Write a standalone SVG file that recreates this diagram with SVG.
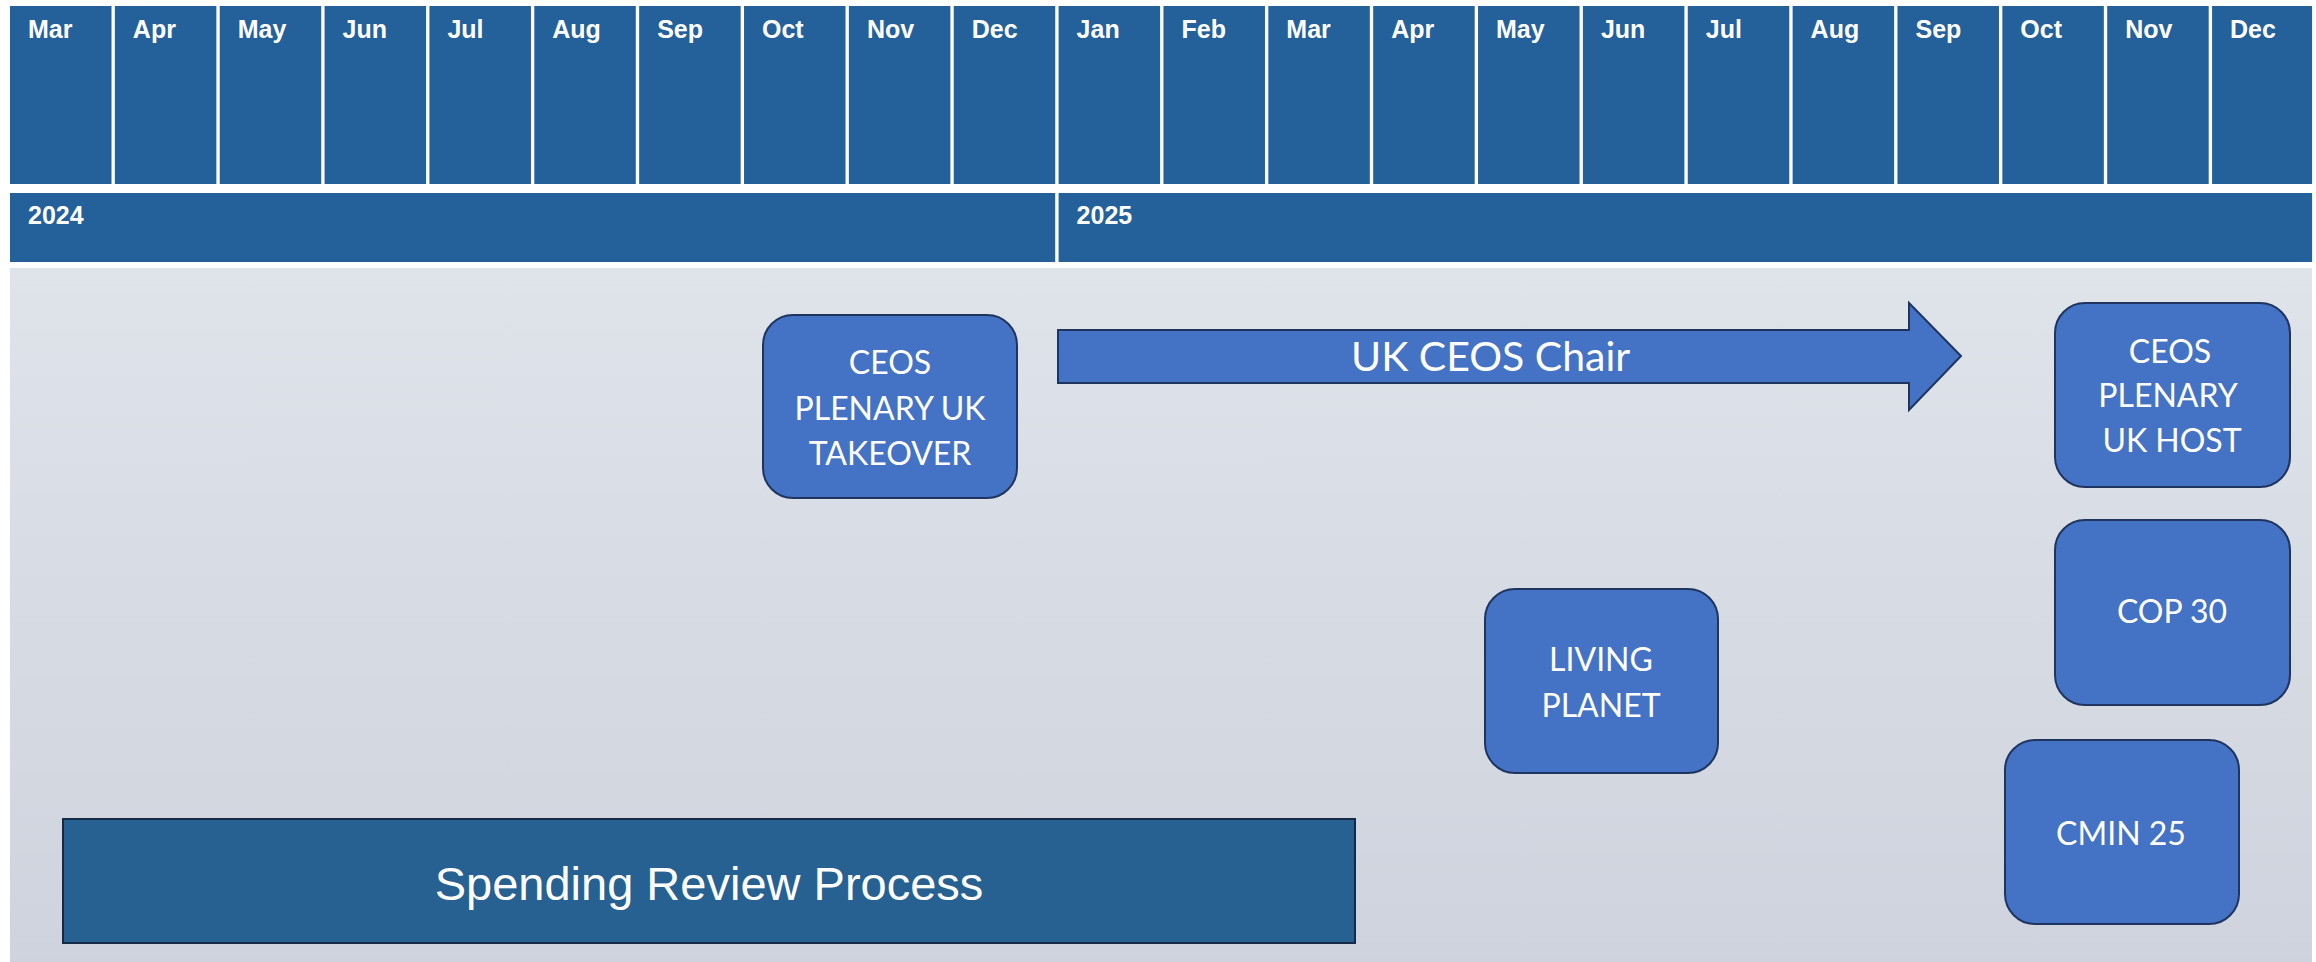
<svg xmlns="http://www.w3.org/2000/svg" width="2316" height="962" viewBox="0 0 2316 962">
<defs>
<linearGradient id="bg" x1="0" y1="0" x2="0" y2="1">
<stop offset="0" stop-color="#dfe3ea"/>
<stop offset="1" stop-color="#ced3dd"/>
</linearGradient>
<style>
.mon{fill:#24609a}
.ml{font-family:"Liberation Sans",Arial,sans-serif;font-weight:bold;font-size:25px;fill:#ffffff}
.node{fill:#4472c4;stroke:#1f3560;stroke-width:2}
.nt{font-family:Lato,"Open Sans",sans-serif;font-size:32px;fill:#ffffff;text-anchor:middle}
</style>
</defs>
<rect x="0" y="0" width="2316" height="962" fill="#ffffff"/>
<rect x="10" y="268" width="2302" height="694" fill="url(#bg)"/>
<g id="months">
<rect class="mon" x="10" y="6" width="101.5" height="178"/>
<rect class="mon" x="114.86" y="6" width="101.5" height="178"/>
<rect class="mon" x="219.72" y="6" width="101.5" height="178"/>
<rect class="mon" x="324.58" y="6" width="101.5" height="178"/>
<rect class="mon" x="429.44" y="6" width="101.5" height="178"/>
<rect class="mon" x="534.3" y="6" width="101.5" height="178"/>
<rect class="mon" x="639.16" y="6" width="101.5" height="178"/>
<rect class="mon" x="744.02" y="6" width="101.5" height="178"/>
<rect class="mon" x="848.88" y="6" width="101.5" height="178"/>
<rect class="mon" x="953.74" y="6" width="101.5" height="178"/>
<rect class="mon" x="1058.6" y="6" width="101.5" height="178"/>
<rect class="mon" x="1163.46" y="6" width="101.5" height="178"/>
<rect class="mon" x="1268.32" y="6" width="101.5" height="178"/>
<rect class="mon" x="1373.18" y="6" width="101.5" height="178"/>
<rect class="mon" x="1478.04" y="6" width="101.5" height="178"/>
<rect class="mon" x="1582.9" y="6" width="101.5" height="178"/>
<rect class="mon" x="1687.76" y="6" width="101.5" height="178"/>
<rect class="mon" x="1792.62" y="6" width="101.5" height="178"/>
<rect class="mon" x="1897.48" y="6" width="101.5" height="178"/>
<rect class="mon" x="2002.34" y="6" width="101.5" height="178"/>
<rect class="mon" x="2107.2" y="6" width="101.5" height="178"/>
<rect class="mon" x="2212.06" y="6" width="100" height="178"/>
<text class="ml" x="28" y="38">Mar</text>
<text class="ml" x="132.86" y="38">Apr</text>
<text class="ml" x="237.72" y="38">May</text>
<text class="ml" x="342.58" y="38">Jun</text>
<text class="ml" x="447.44" y="38">Jul</text>
<text class="ml" x="552.3" y="38">Aug</text>
<text class="ml" x="657.16" y="38">Sep</text>
<text class="ml" x="762.02" y="38">Oct</text>
<text class="ml" x="866.88" y="38">Nov</text>
<text class="ml" x="971.74" y="38">Dec</text>
<text class="ml" x="1076.6" y="38">Jan</text>
<text class="ml" x="1181.46" y="38">Feb</text>
<text class="ml" x="1286.32" y="38">Mar</text>
<text class="ml" x="1391.18" y="38">Apr</text>
<text class="ml" x="1496.04" y="38">May</text>
<text class="ml" x="1600.9" y="38">Jun</text>
<text class="ml" x="1705.76" y="38">Jul</text>
<text class="ml" x="1810.62" y="38">Aug</text>
<text class="ml" x="1915.48" y="38">Sep</text>
<text class="ml" x="2020.34" y="38">Oct</text>
<text class="ml" x="2125.2" y="38">Nov</text>
<text class="ml" x="2230.06" y="38">Dec</text>
</g>
<g id="years">
<rect class="mon" x="10" y="193" width="1045.2" height="69"/>
<rect class="mon" x="1058.6" y="193" width="1253.5" height="69"/>
<text class="ml" x="28" y="224">2024</text>
<text class="ml" x="1076.6" y="224">2025</text>
</g>
<g id="connectors">
<g id="uk-ceos-chair">
<path d="M1058,330 L1909,330 L1909,303 L1961,356 L1909,410 L1909,383 L1058,383 Z" fill="#4472c4" stroke="#1f3560" stroke-width="2"/>
<text x="1351" y="371" font-family="Lato,'Open Sans',sans-serif" font-size="41" fill="#ffffff">UK CEOS Chair</text>
</g>
</g>
<g id="node-takeover">
<rect class="node" x="763" y="315" width="254" height="183" rx="30"/>
<text class="nt" x="890" y="374">CEOS</text>
<text class="nt" x="890" y="420">PLENARY UK</text>
<text class="nt" x="890" y="465">TAKEOVER</text>
</g>
<g id="node-host">
<rect class="node" x="2055" y="303" width="235" height="184" rx="30"/>
<text class="nt" x="2170" y="363">CEOS</text>
<text class="nt" x="2168" y="407">PLENARY</text>
<text class="nt" x="2172" y="452">UK HOST</text>
</g>
<g id="node-cop30">
<rect class="node" x="2055" y="520" width="235" height="185" rx="30"/>
<text class="nt" x="2172" y="623">COP 30</text>
</g>
<g id="node-living-planet">
<rect class="node" x="1485" y="589" width="233" height="184" rx="30"/>
<text class="nt" x="1601" y="671">LIVING</text>
<text class="nt" x="1601" y="717">PLANET</text>
</g>
<g id="node-cmin25">
<rect class="node" x="2005" y="740" width="234" height="184" rx="30"/>
<text class="nt" x="2121" y="845">CMIN 25</text>
</g>
<g id="node-spending-review">
<rect x="63" y="819" width="1292" height="124" fill="#276192" stroke="#172a45" stroke-width="2"/>
<text x="709" y="900" font-family="'Liberation Sans',Arial,sans-serif" font-size="47" fill="#ffffff" text-anchor="middle">Spending Review Process</text>
</g>
</svg>
